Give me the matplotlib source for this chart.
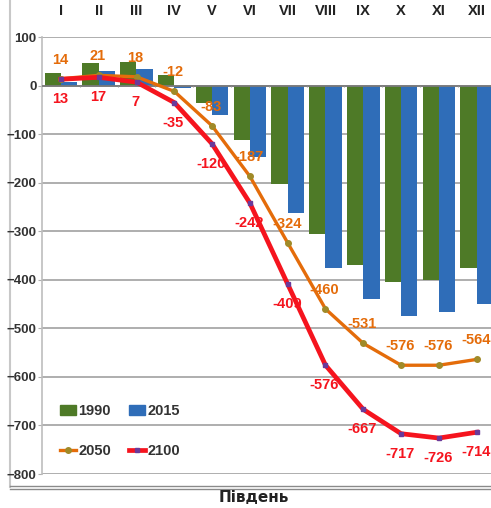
import numpy as np
import matplotlib
matplotlib.use("Agg")
import matplotlib.pyplot as plt
from matplotlib.lines import Line2D
from matplotlib.patches import Patch

# months and values
months = ["I", "II", "III", "IV", "V", "VI", "VII", "VIII", "IX", "X", "XI", "XII"]
y1990 = [26, 46, 49, 22, -35, -112, -203, -306, -370, -405, -401, -376]
y2015 = [8, 30, 34, -6, -61, -148, -263, -376, -439, -474, -467, -450]
y2050 = [14, 21, 18, -12, -83, -187, -324, -460, -531, -576, -576, -564]
y2100 = [13, 17, 7, -35, -120, -242, -409, -576, -667, -717, -726, -714]

c_green = "#4E7A27"
c_blue = "#2F6DB8"
c_orange = "#E46C0A"
c_red = "#F5141E"

W, H = 491, 508
fig = plt.figure(figsize=(W / 100, H / 100), dpi=100)
ax = fig.add_axes([42 / W, 1 - 474 / H, (495.6 - 42) / W, (474 - 37) / H])

x = np.arange(len(months))
bw = 0.43
ax.bar(x - bw / 2, y1990, width=bw, color=c_green, zorder=2)
ax.bar(x + bw / 2, y2015, width=bw, color=c_blue, zorder=2)

ax.plot(x, y2050, color=c_orange, lw=2.4, marker="o", ms=4,
        mfc="#A08A28", mec="#A08A28", zorder=4)
ax.plot(x, y2100, color=c_red, lw=3.4, marker="s", ms=3.5,
        mfc="#6A3A9A", mec="#6A3A9A", zorder=5)

lab_font = dict(family="Liberation Sans", weight="bold", size=10.5)
for xi, v in zip(x, y2050):
    ax.annotate(str(v), (xi, v), xytext=(-1, 19), textcoords="offset pixels",
                ha="center", va="center", color=c_orange, zorder=6, **lab_font)
for xi, v in zip(x, y2100):
    ax.annotate(str(v), (xi, v), xytext=(-1, -20), textcoords="offset pixels",
                ha="center", va="center", color=c_red, zorder=6, **lab_font)

ax.set_xlim(-0.5, len(months) - 0.5)
ax.set_ylim(-800, 100)
ax.set_yticks(np.arange(-800, 101, 100))
ax.yaxis.grid(True, color="#999999", lw=1.1, zorder=0)
ax.axhline(0, color="#7A7A7A", lw=1.3, zorder=3)
# small tick marks between categories on the zero line
bounds = np.arange(0.5, len(months) - 0.5, 1)
ax.vlines(bounds, -4, 0, color="#9A9A9A", lw=0.8, zorder=3)

ax.xaxis.tick_top()
ax.set_xticks(x)
ax.set_xticklabels(months)
ax.tick_params(axis="x", length=0, pad=14)
ax.tick_params(axis="y", length=3, width=0.8, color="#B0B0B0", pad=1)
for t in ax.get_xticklabels():
    t.set_fontfamily("Liberation Sans")
    t.set_fontweight("bold")
    t.set_fontsize(10.5)
    t.set_color("#222222")
for t in ax.get_yticklabels():
    t.set_fontfamily("Liberation Sans")
    t.set_fontweight("bold")
    t.set_fontsize(9.5)
    t.set_color("#333333")

for s in ["right", "bottom", "top"]:
    ax.spines[s].set_visible(False)
ax.spines["left"].set_color("#BDBDBD")
ax.spines["left"].set_linewidth(1.2)

handles = [
    Patch(color=c_green, label="1990"),
    Line2D([], [], color=c_orange, lw=2.4, marker="o", ms=4, mfc="#A08A28", mec="#A08A28", label="2050"),
    Patch(color=c_blue, label="2015"),
    Line2D([], [], color=c_red, lw=3.4, marker="s", ms=3.5, mfc="#6A3A9A", mec="#6A3A9A", label="2100"),
]
fig.legend(handles=handles, ncol=2, loc="upper left",
           bbox_to_anchor=(53 / W, 1 - 397 / H), frameon=False,
           handlelength=1.1, handletextpad=0.15, columnspacing=1.2,
           labelspacing=1.75, borderpad=0,
           prop=dict(family="Liberation Sans", weight="bold", size=10.5),
           labelcolor="#333333")

# outer frame lines of the original picture
fig.add_artist(Line2D([10 / W, 10 / W], [1 - 487 / H, 1.0], color="#C8C8C8", lw=1.5, zorder=0))
fig.add_artist(Line2D([10 / W, 1.0], [1 - 486 / H, 1 - 486 / H], color="#8A8A8A", lw=1.0))
fig.add_artist(Line2D([10 / W, 1.0], [1 - 489 / H, 1 - 489 / H], color="#8A8A8A", lw=1.0))

fig.text(254 / W, 1 - 497 / H, "Південь", ha="center", va="center",
         fontfamily="DejaVu Sans", fontweight="bold", fontsize=11, color="#222222")

fig.savefig("out.png", dpi=100)
